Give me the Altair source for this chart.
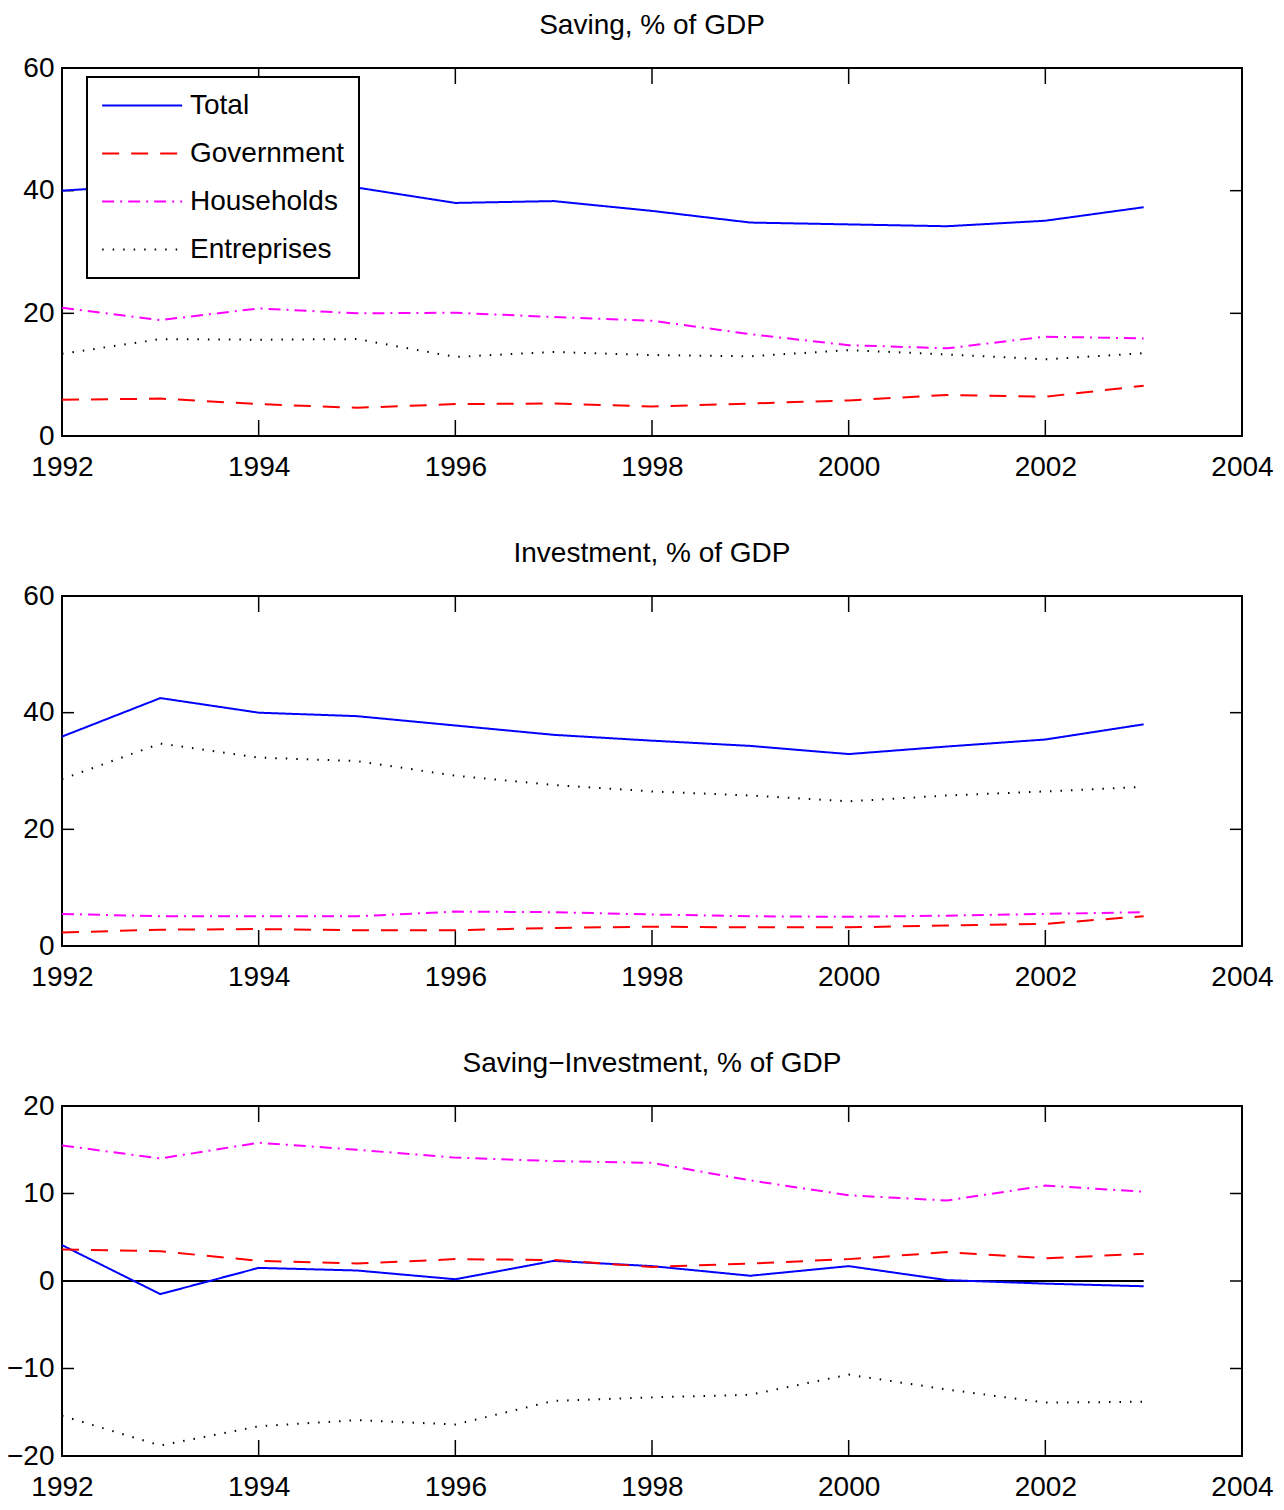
import altair as alt
import pandas as pd

FONT = "Liberation Sans, Arial, sans-serif"
FS = 28

years = list(range(1992, 2004))
series_names = ["Total", "Government", "Households", "Entreprises"]
series_colors = ["#0000ff", "#ff0000", "#ff00ff", "#000000"]
series_dashes = [[1, 0], [17, 12], [12, 6, 2, 6], [1.5, 9]]

# Saving, % of GDP
saving_total = [40.0, 41.0, 41.5, 40.5, 38.0, 38.3, 36.7, 34.8, 34.5, 34.2, 35.1, 37.3]
saving_gov = [5.9, 6.1, 5.2, 4.6, 5.2, 5.3, 4.8, 5.3, 5.8, 6.7, 6.4, 8.2]
saving_hh = [20.9, 18.9, 20.8, 20.0, 20.1, 19.4, 18.8, 16.6, 14.8, 14.3, 16.2, 15.9]
saving_ent = [13.4, 15.8, 15.7, 15.8, 12.9, 13.7, 13.2, 13.0, 14.0, 13.3, 12.5, 13.5]

# Investment, % of GDP
inv_total = [35.9, 42.5, 40.0, 39.4, 37.8, 36.2, 35.2, 34.3, 32.9, 34.2, 35.4, 38.0]
inv_gov = [2.3, 2.8, 2.9, 2.7, 2.7, 3.1, 3.3, 3.2, 3.2, 3.5, 3.8, 5.1]
inv_hh = [5.5, 5.1, 5.1, 5.1, 5.9, 5.8, 5.4, 5.1, 5.0, 5.2, 5.5, 5.8]
inv_ent = [28.6, 34.7, 32.3, 31.7, 29.2, 27.6, 26.5, 25.8, 24.8, 25.8, 26.5, 27.3]

# Saving-Investment, % of GDP
si_total = [4.1, -1.5, 1.5, 1.2, 0.2, 2.3, 1.7, 0.6, 1.7, 0.1, -0.3, -0.6]
si_gov = [3.6, 3.4, 2.3, 2.0, 2.5, 2.4, 1.6, 2.0, 2.5, 3.3, 2.6, 3.1]
si_hh = [15.5, 14.0, 15.8, 15.0, 14.1, 13.7, 13.5, 11.5, 9.8, 9.2, 10.9, 10.2]
si_ent = [-15.4, -18.8, -16.6, -15.9, -16.4, -13.7, -13.3, -13.0, -10.7, -12.4, -13.9, -13.8]

zero_years = [1992, 2003]
zero_values = [0, 0]

x_ticks = [1992, 1994, 1996, 1998, 2000, 2002, 2004]
y_ticks_top = [0, 20, 40, 60]
y_ticks_diff = [-20, -10, 0, 10, 20]

titles = ["Saving, % of GDP", "Investment, % of GDP", "Saving\u2212Investment, % of GDP"]

W = 1180
HEIGHTS = [368, 350, 350]


def long_df(tot, gov, hh, ent):
    rows = []
    for name, vals in zip(series_names, [tot, gov, hh, ent]):
        for y, v in zip(years, vals):
            rows.append({"year": y, "value": v, "series": name})
    return pd.DataFrame(rows)


def panel(df, title, ydom, yticks, H, show_legend, zero_line=False):
    xscale = alt.Scale(domain=[1992, 2004], nice=False, zero=False)
    yscale = alt.Scale(domain=ydom, nice=False, zero=False)
    x_axis = alt.Axis(values=x_ticks, format="d", title=None,
                      labelFlush=False, labelPadding=17)
    y_axis = alt.Axis(values=yticks, format="d", title=None, labelPadding=8)
    if show_legend:
        leg = alt.Legend(
            title=None, orient="none", legendX=25, legendY=9,
            strokeColor="black", fillColor="white", padding=14,
            symbolType="M-1,0H5", symbolSize=711, symbolStrokeWidth=2,
            labelFont=FONT, labelFontSize=FS, labelColor="black",
            labelOffset=60, rowPadding=19, labelLimit=400,
        )
    else:
        leg = None
    lines = alt.Chart(df).mark_line(strokeWidth=2, clip=True).encode(
        x=alt.X("year:Q", scale=xscale, axis=x_axis),
        y=alt.Y("value:Q", scale=yscale, axis=y_axis),
        color=alt.Color("series:N",
                        scale=alt.Scale(domain=series_names, range=series_colors),
                        legend=leg),
        strokeDash=alt.StrokeDash("series:N",
                                  scale=alt.Scale(domain=series_names, range=series_dashes),
                                  legend=leg),
        order=alt.Order("year:Q"),
    )
    xt = pd.DataFrame({"v": x_ticks})
    yt = pd.DataFrame({"v": yticks})
    tick_top = alt.Chart(xt).mark_rule(color="black", strokeWidth=1.5).encode(
        x=alt.X("v:Q", scale=xscale, axis=x_axis), y=alt.value(0), y2=alt.value(16))
    tick_bot = alt.Chart(xt).mark_rule(color="black", strokeWidth=1.5).encode(
        x=alt.X("v:Q", scale=xscale, axis=x_axis), y=alt.value(H), y2=alt.value(H - 16))
    tick_left = alt.Chart(yt).mark_rule(color="black", strokeWidth=1.5).encode(
        y=alt.Y("v:Q", scale=yscale, axis=y_axis), x=alt.value(0), x2=alt.value(12))
    tick_right = alt.Chart(yt).mark_rule(color="black", strokeWidth=1.5).encode(
        y=alt.Y("v:Q", scale=yscale, axis=y_axis), x=alt.value(W - 12), x2=alt.value(W))
    layers = [tick_top, tick_bot, tick_left, tick_right]
    if zero_line:
        zdf = pd.DataFrame({"year": zero_years, "value": zero_values})
        zl = alt.Chart(zdf).mark_line(color="black", strokeWidth=2).encode(
            x=alt.X("year:Q", scale=xscale, axis=x_axis),
            y=alt.Y("value:Q", scale=yscale, axis=y_axis))
        layers.append(zl)
    layers.append(lines)
    return alt.layer(*layers).properties(
        width=W, height=H,
        title=alt.TitleParams(title, font=FONT, fontSize=FS, fontWeight="normal",
                              color="black", offset=14),
    )


p1 = panel(long_df(saving_total, saving_gov, saving_hh, saving_ent),
           titles[0], [0, 60], y_ticks_top, HEIGHTS[0], True)
p2 = panel(long_df(inv_total, inv_gov, inv_hh, inv_ent),
           titles[1], [0, 60], y_ticks_top, HEIGHTS[1], False)
p3 = panel(long_df(si_total, si_gov, si_hh, si_ent),
           titles[2], [-20, 20], y_ticks_diff, HEIGHTS[2], False, zero_line=True)

chart = alt.vconcat(p1, p2, p3, spacing=57).resolve_scale(
    color="independent", strokeDash="independent"
).resolve_legend(color="independent", strokeDash="independent").properties(
    padding={"left": 5, "top": 11, "right": 0, "bottom": 0},
    background="white",
).configure_view(stroke="black", strokeWidth=2).configure_axis(
    domain=False, ticks=False, grid=False,
    labelFont=FONT, labelFontSize=FS, labelColor="black",
).configure_legend(strokeWidth=2)

chart.save("out.html", embed_options={"renderer": "svg", "actions": False})
